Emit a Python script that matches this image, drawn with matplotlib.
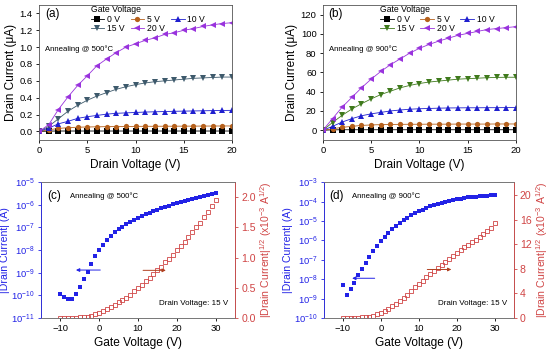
import matplotlib.pyplot as plt
import numpy as np

plt.rcParams['font.family'] = ['Liberation Sans', 'DejaVu Sans']
plt.rcParams['mathtext.fontset'] = 'custom'
plt.rcParams['mathtext.rm'] = 'Liberation Sans'

# -----------------------------
# Output characteristics, (a) 500 C, (b) 900 C
# -----------------------------
drain_v = list(range(0, 21))
gate_labels = ['0 V', '5 V', '10 V', '15 V', '20 V']

id_500 = {
    '0 V': [0, 0.004, 0.005, 0.005, 0.005, 0.005, 0.005, 0.005, 0.005, 0.005, 0.005,
            0.005, 0.005, 0.005, 0.005, 0.005, 0.005, 0.005, 0.005, 0.005, 0.005],
    '5 V': [0, 0.02, 0.035, 0.045, 0.05, 0.053, 0.055, 0.057, 0.058, 0.059, 0.06,
            0.061, 0.061, 0.062, 0.062, 0.063, 0.063, 0.064, 0.064, 0.065, 0.065],
    '10 V': [0, 0.04, 0.09, 0.12, 0.155, 0.175, 0.19, 0.205, 0.215, 0.22, 0.225,
             0.23, 0.233, 0.236, 0.239, 0.241, 0.243, 0.245, 0.247, 0.249, 0.25],
    '15 V': [0, 0.06, 0.15, 0.24, 0.31, 0.37, 0.42, 0.46, 0.50, 0.53, 0.555,
             0.575, 0.59, 0.60, 0.61, 0.62, 0.63, 0.635, 0.64, 0.645, 0.645],
    '20 V': [0, 0.08, 0.26, 0.41, 0.545, 0.66, 0.78, 0.86, 0.935, 1.0, 1.04,
             1.08, 1.11, 1.15, 1.17, 1.20, 1.22, 1.245, 1.265, 1.28, 1.29],
}

id_900 = {
    '0 V': [0, 0.4, 0.5, 0.5, 0.5, 0.5, 0.5, 0.5, 0.5, 0.5, 0.5,
            0.5, 0.5, 0.5, 0.5, 0.5, 0.5, 0.5, 0.5, 0.5, 0.5],
    '5 V': [0, 1.5, 3.0, 4.0, 5.0, 5.5, 5.8, 6.0, 6.1, 6.2, 6.2,
            6.3, 6.3, 6.3, 6.4, 6.4, 6.4, 6.4, 6.5, 6.5, 6.5],
    '10 V': [0, 4.0, 8.5, 12.0, 15.0, 17.0, 18.5, 20.0, 21.0, 21.8, 22.3,
             22.6, 22.9, 23.1, 23.2, 23.3, 23.3, 23.4, 23.4, 23.5, 23.5],
    '15 V': [0, 8.0, 15.5, 22.0, 27.5, 32.5, 37.0, 40.5, 44.0, 46.5, 48.5,
             50.0, 51.0, 52.0, 53.0, 53.5, 54.0, 54.5, 54.8, 55.0, 55.0],
    '20 V': [0, 12.0, 24.0, 34.0, 44.0, 53.0, 61.0, 68.0, 74.0, 80.0, 85.0,
             89.0, 92.5, 95.5, 98.5, 100.5, 102.5, 104.5, 105.5, 106.5, 107.5],
}

markers = {'0 V': 's', '5 V': 'o', '10 V': '^', '15 V': 'v', '20 V': '<'}
colors_500 = {'0 V': 'black', '5 V': '#b5601c', '10 V': '#1f1fcf',
              '15 V': '#3e5a6c', '20 V': '#9933dd'}
colors_900 = {'0 V': 'black', '5 V': '#b5601c', '10 V': '#1f1fcf',
              '15 V': '#3f7a1c', '20 V': '#9933dd'}

# -----------------------------
# Transfer characteristics, (c) 500 C, (d) 900 C
# -----------------------------
gate_v = list(range(-10, 31))

# log10 of |Id| in A
log_id_500 = [-9.95, -10.07, -10.14, -10.14, -9.95, -9.62, -9.28, -8.96, -8.63, -8.26,
              -8.01, -7.78, -7.56, -7.38, -7.22, -7.08, -6.96, -6.85, -6.74, -6.65,
              -6.57, -6.49, -6.42, -6.35, -6.28, -6.22, -6.16, -6.10, -6.04, -5.98,
              -5.93, -5.88, -5.83, -5.78, -5.73, -5.69, -5.64, -5.60, -5.56, -5.52,
              -5.47]
sqrt_id_500 = [0.0, 0.0, 0.0, 0.0, 0.005, 0.01, 0.015, 0.025, 0.04, 0.06,
               0.09, 0.12, 0.15, 0.18, 0.22, 0.26, 0.30, 0.34, 0.39, 0.44,
               0.50, 0.55, 0.61, 0.67, 0.73, 0.79, 0.85, 0.92, 0.98, 1.05,
               1.12, 1.19, 1.26, 1.34, 1.42, 1.50, 1.58, 1.67, 1.76, 1.85,
               1.95]

log_id_900 = [-8.28, -8.83, -8.52, -8.17, -7.79, -7.48, -7.14, -6.83, -6.55, -6.29,
              -6.03, -5.81, -5.60, -5.41, -5.24, -5.09, -4.95, -4.83, -4.71, -4.60,
              -4.50, -4.41, -4.33, -4.25, -4.18, -4.12, -4.06, -4.01, -3.96, -3.92,
              -3.88, -3.85, -3.82, -3.79, -3.77, -3.75, -3.73, -3.71, -3.69, -3.67,
              -3.65]
sqrt_id_900 = [0.0, 0.0, 0.0, 0.0, 0.05, 0.1, 0.15, 0.25, 0.4, 0.6,
               0.9, 1.2, 1.5, 1.9, 2.3, 2.8, 3.3, 3.8, 4.4, 5.0,
               5.6, 6.1, 6.6, 7.1, 7.6, 8.1, 8.6, 9.1, 9.6, 10.1,
               10.6, 11.0, 11.5, 11.9, 12.3, 12.7, 13.2, 13.6, 14.1, 14.6,
               15.4]

BLUE = '#2222e6'
RED = '#d04545'
TICK_FS = 6.8
LABEL_FS = 8.6
TLABEL_FS = 7.6   # y labels of the transfer panels, they are long


def plot_output(ax, data, colors, ylim, yticks, yfmt, tag, anneal, leg_x):
    handles = {}
    for g in gate_labels:
        h, = ax.plot(drain_v, data[g], marker=markers[g], color=colors[g],
                     ms=3.8, lw=0.6, mew=0)
        handles[g] = h
    ax.set_xlim(0, 20)
    ax.set_ylim(*ylim)
    ax.set_xticks([0, 5, 10, 15, 20])
    ax.set_yticks(yticks)
    ax.set_yticklabels([yfmt.format(v) for v in yticks])
    ax.tick_params(labelsize=TICK_FS, length=2.5, width=0.6, pad=2)
    for s in ax.spines.values():
        s.set_linewidth(0.6)
        s.set_color('#555555')
    ax.set_xlabel('Drain Voltage (V)', fontsize=LABEL_FS, labelpad=3)
    ax.set_ylabel('Drain Current (\u03bcA)', fontsize=LABEL_FS, labelpad=2)
    ax.text(0.03, 0.93, tag, transform=ax.transAxes, fontsize=8.5, va='center')
    ax.text(0.03, 0.67, anneal, transform=ax.transAxes, fontsize=5.6, va='center')

    # row-wise order for a 3 column legend
    order = ['0 V', '15 V', '5 V', '20 V', '10 V']
    leg = ax.legend([handles[g] for g in order], order, ncol=3, frameon=False,
                    fontsize=6.2, title='Gate Voltage', title_fontsize=6.2,
                    loc='upper left', bbox_to_anchor=(leg_x, 1.04),
                    handlelength=1.6, handletextpad=0.3, columnspacing=0.7,
                    labelspacing=0.1, borderpad=0.1)
    leg._legend_box.align = 'left'


def plot_transfer(ax, log_id, sqrt_id, ylog, yright, rticks, rfmt, tag, anneal,
                  arr_left, arr_right):
    ax.plot(gate_v, [10 ** v for v in log_id], 's', color=BLUE, ms=3.4, mew=0)
    ax.set_yscale('log')
    ax.set_xlim(-15, 35)
    ax.set_ylim(10.0 ** ylog[0], 10.0 ** ylog[1])
    ax.set_yticks([10.0 ** k for k in range(ylog[0], ylog[1] + 1)])
    ax.minorticks_off()
    ax.set_xticks([-10, 0, 10, 20, 30])
    ax.tick_params(labelsize=TICK_FS, length=2.5, width=0.6, pad=2)
    ax.tick_params(axis='y', colors=BLUE)
    ax.set_xlabel('Gate Voltage (V)', fontsize=LABEL_FS, labelpad=3)
    ax.set_ylabel('|Drain Current| (A)', fontsize=TLABEL_FS, color=BLUE, labelpad=1)

    ax2 = ax.twinx()
    ax2.plot(gate_v, sqrt_id, 's', color=RED, mfc='none', ms=3.3, mew=0.6)
    ax2.set_ylim(*yright)
    ax2.set_yticks(rticks)
    ax2.set_yticklabels([rfmt.format(v) for v in rticks])
    ax2.tick_params(labelsize=TICK_FS + 0.8, length=2.5, width=0.6, pad=2, colors=RED)
    ax2.set_ylabel('|Drain Current|$^{1/2}$ (x10$^{-3}$ A$^{1/2}$)',
                   fontsize=TLABEL_FS, color=RED, labelpad=2)

    for a in (ax, ax2):
        for name, s in a.spines.items():
            s.set_linewidth(0.6)
            s.set_color('#777777')
    ax2.spines['left'].set_color(BLUE)
    ax2.spines['right'].set_color(RED)

    ax.text(0.03, 0.9, tag, transform=ax.transAxes, fontsize=8.5, va='center')
    ax.text(0.15, 0.9, anneal, transform=ax.transAxes, fontsize=5.6, va='center')
    ax.text(0.965, 0.11, 'Drain Voltage: 15 V', transform=ax.transAxes,
            fontsize=5.8, va='center', ha='right')

    # arrows pointing to the axis each series belongs to
    ax.annotate('', xy=(arr_left[0], arr_left[2]), xytext=(arr_left[1], arr_left[2]),
                arrowprops=dict(arrowstyle='-|>', color=BLUE, lw=0.7,
                                mutation_scale=5))
    ax2.annotate('', xy=(arr_right[1], arr_right[2]), xytext=(arr_right[0], arr_right[2]),
                 arrowprops=dict(arrowstyle='-|>', color='#b04020', lw=0.7,
                                 mutation_scale=5))


fig = plt.figure(figsize=(5.5, 3.55), dpi=100)

ax_a = fig.add_axes([0.071, 0.606, 0.351, 0.380])
ax_b = fig.add_axes([0.587, 0.606, 0.351, 0.380])
ax_c = fig.add_axes([0.0745, 0.104, 0.3527, 0.383])
ax_d = fig.add_axes([0.589, 0.104, 0.345, 0.383])

plot_output(ax_a, id_500, colors_500, (-0.1, 1.5), np.arange(0, 1.41, 0.2), '{:.1f}',
            '(a)', 'Annealing @ 500\u00b0C', 0.24)
plot_output(ax_b, id_900, colors_900, (-10, 130), list(range(0, 121, 20)), '{:d}',
            '(b)', 'Annealing @ 900\u00b0C', 0.27)

plot_transfer(ax_c, log_id_500, sqrt_id_500, (-11, -5), (0, 2.25),
              [0.0, 0.5, 1.0, 1.5, 2.0], '{:.1f}', '(c)', 'Annealing @ 500\u00b0C',
              (-6.7, 1.0, 10 ** -8.88), (10.6, 17.9, 0.79))
plot_transfer(ax_d, log_id_900, sqrt_id_900, (-10, -3), (0, 22.1),
              [0, 4, 8, 12, 16, 20], '{:d}', '(d)', 'Annealing @ 900\u00b0C',
              (-8.3, -0.9, 10 ** -7.95), (11.5, 19.3, 7.9))

plt.savefig('out.png', dpi=100)
